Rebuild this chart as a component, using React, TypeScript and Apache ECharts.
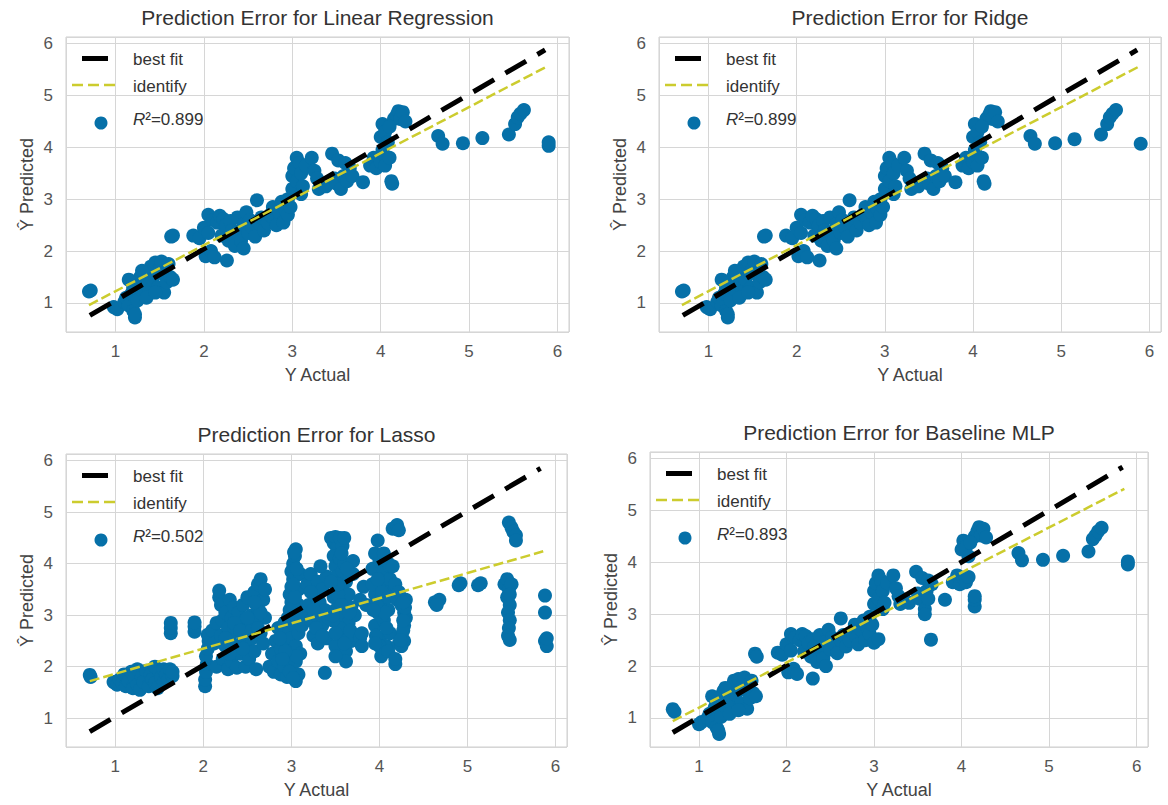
import React, { useEffect, useRef } from 'react';
import * as echarts from 'echarts';

const FONT = "'Liberation Sans', Arial, Helvetica, sans-serif";

// ---------- DATA ----------
const panelTitles = [
  'Prediction Error for Linear Regression',
  'Prediction Error for Ridge',
  'Prediction Error for Lasso',
  'Prediction Error for Baseline MLP',
];
const r2Values = ['0.899', '0.899', '0.502', '0.893'];
const xAxisName = 'Y Actual';
const yAxisName = 'Ŷ Predicted';
const tickValues = [1, 2, 3, 4, 5, 6];

// black dashed "best fit" line end points per panel
const bestFitLines = [
  [[0.71, 0.76], [5.86, 5.88]],
  [[0.71, 0.76], [5.86, 5.88]],
  [[0.71, 0.74], [5.83, 5.85]],
  [[0.70, 0.72], [5.84, 5.84]],
];
// yellow dashed "identify" line end points per panel
const identifyLines = [
  [[0.70, 0.96], [5.88, 5.56]],
  [[0.70, 0.96], [5.88, 5.56]],
  [[0.71, 1.72], [5.86, 4.24]],
  [[0.70, 0.94], [5.86, 5.42]],
];

const linearPoints = [
  [0.70, 1.22], [0.72, 1.24], [0.98, 0.92], [1.02, 0.88], [1.10, 1.02], [1.12, 1.10], [1.15, 0.95], [1.18, 1.18],
  [1.20, 0.85], [1.22, 0.72], [1.22, 0.78], [1.20, 1.30], [1.25, 1.40], [1.25, 1.05], [1.28, 1.50], [1.30, 1.25],
  [1.32, 1.55], [1.35, 1.35], [1.38, 1.60], [1.40, 1.70], [1.42, 1.45], [1.45, 1.78], [1.48, 1.30], [1.50, 1.65],
  [1.52, 1.80], [1.55, 1.55], [1.55, 1.20], [1.58, 1.40], [1.60, 1.75], [1.62, 1.50], [1.65, 1.45], [1.63, 2.28],
  [1.65, 2.30], [1.15, 1.45], [1.35, 1.10], [1.45, 1.20], [1.30, 1.62],
  [1.88, 2.30], [1.95, 2.25], [2.00, 2.45], [2.02, 1.90], [2.05, 2.70], [2.05, 2.35], [2.08, 2.00], [2.10, 2.60],
  [2.12, 1.88], [2.15, 2.55], [2.18, 2.68], [2.20, 2.30], [2.22, 2.62], [2.25, 2.50], [2.26, 1.82], [2.28, 2.20],
  [2.30, 2.58], [2.32, 2.40], [2.35, 2.10], [2.38, 2.65], [2.40, 2.30], [2.42, 2.20], [2.45, 2.52], [2.45, 2.05],
  [2.48, 2.75], [2.50, 2.35], [2.52, 2.60], [2.55, 2.45], [2.58, 2.28], [2.60, 2.98], [2.62, 2.55], [2.65, 2.65],
  [2.68, 2.40],
  [2.72, 2.55], [2.75, 2.70], [2.78, 2.85], [2.80, 2.60], [2.82, 2.50], [2.85, 2.75], [2.88, 2.95], [2.90, 2.55],
  [2.92, 2.80], [2.95, 3.00], [2.95, 2.70], [2.98, 2.85], [3.00, 3.20], [3.00, 3.45], [3.02, 3.60], [3.05, 3.80],
  [3.05, 3.35], [3.08, 3.70], [3.10, 3.10], [3.10, 3.50], [3.12, 3.25], [3.15, 3.65],
  [3.22, 3.80], [3.25, 3.55], [3.28, 3.40], [3.30, 3.20], [3.35, 3.30], [3.38, 3.25], [3.45, 3.88], [3.48, 3.40],
  [3.50, 3.30], [3.52, 3.75], [3.55, 3.20], [3.58, 3.45], [3.60, 3.70], [3.62, 3.35], [3.65, 3.60], [3.68, 3.45],
  [3.80, 3.33], [3.88, 3.65], [3.92, 3.80], [3.95, 3.60], [4.00, 3.72], [4.02, 3.95], [4.05, 3.65], [4.10, 3.80],
  [4.12, 3.35], [4.13, 3.30], [4.00, 4.20], [4.02, 4.45], [4.05, 4.30], [4.08, 4.10], [4.15, 4.55], [4.18, 4.62],
  [4.20, 4.70], [4.22, 4.55], [4.25, 4.68], [4.28, 4.50], [4.10, 4.40],
  [4.65, 4.22], [4.70, 4.07], [4.93, 4.08], [5.15, 4.18], [5.45, 4.25], [5.52, 4.45], [5.55, 4.58], [5.58, 4.65],
  [5.62, 4.72], [5.90, 4.03], [5.90, 4.10],
];

const ridgePoints = [
  [0.70, 1.22], [0.72, 1.24], [0.98, 0.92], [1.02, 0.88], [1.10, 1.02], [1.12, 1.10], [1.15, 0.95], [1.18, 1.18],
  [1.20, 0.85], [1.22, 0.72], [1.22, 0.78], [1.20, 1.30], [1.25, 1.40], [1.25, 1.05], [1.28, 1.50], [1.30, 1.25],
  [1.32, 1.55], [1.35, 1.35], [1.38, 1.60], [1.40, 1.70], [1.42, 1.45], [1.45, 1.78], [1.48, 1.30], [1.50, 1.65],
  [1.52, 1.80], [1.55, 1.55], [1.55, 1.20], [1.58, 1.40], [1.60, 1.75], [1.62, 1.50], [1.65, 1.45], [1.63, 2.28],
  [1.65, 2.30], [1.15, 1.45], [1.35, 1.10], [1.45, 1.20], [1.30, 1.62],
  [1.88, 2.30], [1.95, 2.25], [2.00, 2.45], [2.02, 1.90], [2.05, 2.70], [2.05, 2.35], [2.08, 2.00], [2.10, 2.60],
  [2.12, 1.88], [2.15, 2.55], [2.18, 2.68], [2.20, 2.30], [2.22, 2.62], [2.25, 2.50], [2.26, 1.82], [2.28, 2.20],
  [2.30, 2.58], [2.32, 2.40], [2.35, 2.10], [2.38, 2.65], [2.40, 2.30], [2.42, 2.20], [2.45, 2.52], [2.45, 2.05],
  [2.48, 2.75], [2.50, 2.35], [2.52, 2.60], [2.55, 2.45], [2.58, 2.28], [2.60, 2.98], [2.62, 2.55], [2.65, 2.65],
  [2.68, 2.40],
  [2.72, 2.55], [2.75, 2.70], [2.78, 2.85], [2.80, 2.60], [2.82, 2.50], [2.85, 2.75], [2.88, 2.95], [2.90, 2.55],
  [2.92, 2.80], [2.95, 3.00], [2.95, 2.70], [2.98, 2.85], [3.00, 3.20], [3.00, 3.45], [3.02, 3.60], [3.05, 3.80],
  [3.05, 3.35], [3.08, 3.70], [3.10, 3.10], [3.10, 3.50], [3.12, 3.25], [3.15, 3.65],
  [3.22, 3.80], [3.25, 3.55], [3.28, 3.40], [3.30, 3.20], [3.35, 3.30], [3.38, 3.25], [3.45, 3.88], [3.48, 3.40],
  [3.50, 3.30], [3.52, 3.75], [3.55, 3.20], [3.58, 3.45], [3.60, 3.70], [3.62, 3.35], [3.65, 3.60], [3.68, 3.45],
  [3.80, 3.33], [3.88, 3.65], [3.92, 3.80], [3.95, 3.60], [4.00, 3.72], [4.02, 3.95], [4.05, 3.65], [4.10, 3.80],
  [4.12, 3.35], [4.13, 3.30], [4.00, 4.20], [4.02, 4.45], [4.05, 4.30], [4.08, 4.10], [4.15, 4.55], [4.18, 4.62],
  [4.20, 4.70], [4.22, 4.55], [4.25, 4.68], [4.28, 4.50], [4.10, 4.40],
  [4.65, 4.22], [4.70, 4.07], [4.93, 4.08], [5.15, 4.16], [5.45, 4.25], [5.52, 4.45], [5.55, 4.58], [5.58, 4.65],
  [5.62, 4.72], [5.90, 4.07],
];

const lassoPoints = [
  [0.71, 1.84], [0.72, 1.80],
  [0.98, 1.70], [1.02, 1.65], [1.05, 1.75], [1.08, 1.68], [1.10, 1.85], [1.12, 1.62], [1.15, 1.72], [1.18, 1.90],
  [1.20, 1.58], [1.22, 1.78], [1.25, 1.95], [1.25, 1.65], [1.28, 1.55], [1.30, 1.80], [1.32, 1.70], [1.35, 1.92],
  [1.38, 1.62], [1.40, 1.85], [1.42, 1.75], [1.45, 2.00], [1.45, 1.68], [1.48, 1.58], [1.50, 1.90], [1.52, 1.80],
  [1.55, 1.70], [1.55, 1.95], [1.58, 1.85], [1.60, 1.75], [1.62, 1.95], [1.65, 1.82], [1.65, 1.90],
  [1.63, 2.65], [1.63, 2.75], [1.63, 2.85], [1.90, 2.68], [1.90, 2.78], [1.90, 2.86],
  [2.02, 1.62], [2.02, 1.75], [2.03, 1.90], [2.04, 2.05], [2.03, 2.20], [2.05, 2.35], [2.06, 2.50], [2.05, 2.62],
  [2.10, 2.70], [2.12, 2.45], [2.15, 2.85], [2.15, 2.00], [2.18, 3.35], [2.18, 3.48], [2.20, 3.20], [2.20, 2.60],
  [2.22, 2.90], [2.22, 2.15], [2.25, 3.05], [2.25, 2.40], [2.28, 2.75], [2.28, 1.95], [2.30, 3.30], [2.30, 2.55],
  [2.32, 2.95], [2.32, 2.10], [2.35, 3.15], [2.35, 2.70], [2.38, 2.40], [2.38, 1.98], [2.40, 2.85], [2.40, 3.05],
  [2.42, 2.25], [2.45, 2.60], [2.45, 3.20], [2.48, 2.00], [2.48, 2.90], [2.50, 2.40], [2.50, 3.35], [2.52, 2.75],
  [2.52, 2.15], [2.55, 3.00], [2.55, 2.55], [2.58, 3.45], [2.58, 2.30], [2.60, 2.85], [2.60, 1.95], [2.62, 3.60],
  [2.62, 3.15], [2.65, 2.65], [2.65, 3.70], [2.68, 2.45], [2.68, 3.30], [2.70, 3.50], [2.70, 2.95],
  [2.25, 2.55], [2.35, 2.85], [2.42, 2.70], [2.55, 2.70], [2.50, 2.95], [2.62, 2.75], [2.65, 3.05], [2.45, 2.35],
  [2.58, 3.25], [2.30, 2.25],
  [2.75, 2.00], [2.78, 2.25], [2.80, 1.90], [2.82, 2.50], [2.85, 2.10], [2.85, 2.75], [2.88, 1.85], [2.88, 2.35],
  [2.90, 2.60], [2.92, 2.00], [2.92, 2.85], [2.95, 2.20], [2.95, 2.45], [2.95, 1.80], [2.98, 2.70], [3.00, 1.95],
  [3.00, 2.30], [3.00, 2.55], [3.02, 2.85], [3.05, 1.72], [3.05, 2.10], [3.05, 2.40], [3.08, 2.65], [3.08, 1.85],
  [3.10, 2.25], [3.10, 2.95],
  [2.96, 2.95], [3.06, 2.20], [2.98, 1.90], [3.02, 1.78], [2.93, 2.30], [2.90, 2.15], [2.87, 2.55],
  [2.98, 3.10], [3.00, 3.25], [2.98, 3.40], [3.00, 3.55], [3.02, 3.70], [3.00, 3.85], [3.02, 4.00], [3.04, 4.15],
  [3.05, 4.28], [3.08, 3.20], [3.08, 3.50], [3.10, 3.80], [3.12, 3.05], [3.12, 2.80],
  [3.02, 3.15], [3.04, 3.35], [3.02, 3.60], [3.06, 3.90], [3.03, 4.22],
  [3.18, 3.60], [3.20, 3.20], [3.22, 2.90], [3.22, 3.80], [3.25, 3.40], [3.25, 2.60], [3.28, 3.00], [3.30, 3.65],
  [3.30, 2.45], [3.32, 3.25], [3.35, 2.80], [3.35, 3.50], [3.38, 3.10], [3.38, 1.88], [3.40, 3.75], [3.40, 2.55],
  [3.42, 2.95],
  [3.22, 3.45], [3.28, 2.75], [3.33, 3.95], [3.35, 2.60], [3.25, 3.10],
  [3.45, 4.50], [3.48, 4.40], [3.50, 4.52], [3.52, 4.30], [3.55, 4.50], [3.58, 4.35], [3.60, 4.50], [3.48, 4.15],
  [3.50, 3.95], [3.52, 3.75], [3.55, 4.10], [3.55, 3.55], [3.58, 3.85], [3.60, 3.30], [3.60, 4.00], [3.62, 3.65],
  [3.48, 3.35], [3.50, 3.10], [3.52, 2.85], [3.55, 2.60], [3.50, 2.40], [3.58, 3.00], [3.60, 2.70], [3.62, 2.30],
  [3.62, 2.10], [3.65, 3.40], [3.65, 2.85], [3.68, 3.15], [3.68, 2.50], [3.70, 3.80], [3.72, 3.00], [3.70, 4.05],
  [3.53, 3.40], [3.57, 3.20], [3.63, 2.55], [3.55, 2.75], [3.50, 2.20],
  [3.47, 2.90], [3.50, 2.65], [3.53, 3.60], [3.57, 4.20], [3.63, 3.90], [3.66, 3.05], [3.67, 2.70], [3.45, 3.65],
  [3.47, 3.00], [3.60, 2.45],
  [3.78, 2.55], [3.80, 2.65], [3.78, 3.30], [3.82, 3.55], [3.85, 3.20], [3.80, 2.40],
  [3.92, 3.90], [3.95, 3.40], [3.95, 2.80], [3.98, 4.45], [3.98, 3.05], [4.00, 4.05], [4.00, 3.70], [4.00, 2.55],
  [4.02, 2.20], [4.02, 3.25], [4.05, 3.85], [4.05, 2.90], [4.08, 3.55], [4.08, 2.40], [4.10, 3.10], [4.10, 4.00],
  [4.12, 3.70], [4.12, 2.65], [3.92, 3.60], [3.95, 4.20],
  [4.03, 3.45], [4.06, 3.05], [3.97, 3.25], [4.00, 2.40], [4.10, 3.35],
  [3.93, 3.10], [3.96, 2.60], [3.98, 3.70], [4.05, 4.20], [4.08, 2.75], [4.12, 3.95], [3.95, 2.45], [4.10, 2.30],
  [4.15, 4.68], [4.20, 4.75], [4.22, 4.65], [4.18, 2.05], [4.18, 2.15], [4.15, 3.95], [4.18, 3.60], [4.20, 3.30],
  [4.22, 2.45], [4.25, 3.20], [4.25, 2.60], [4.28, 3.05], [4.28, 2.80], [4.30, 2.95], [4.30, 3.30], [4.25, 2.40],
  [4.22, 3.45], [4.28, 2.50],
  [4.27, 2.70], [4.27, 2.90], [4.29, 3.15], [4.27, 3.25], [4.24, 2.52],
  [4.63, 3.25], [4.68, 3.30], [4.65, 3.20], [4.90, 3.58], [4.92, 3.62], [5.12, 3.58], [5.15, 3.62],
  [5.42, 3.60], [5.45, 3.70], [5.47, 3.50], [5.45, 3.35], [5.48, 3.20], [5.46, 3.05], [5.48, 2.90], [5.47, 2.75],
  [5.46, 2.60], [5.48, 2.52], [5.50, 3.60], [5.48, 3.40],
  [5.47, 4.80], [5.50, 4.70], [5.52, 4.62], [5.55, 4.55], [5.55, 4.45],
  [5.88, 3.38], [5.88, 3.05], [5.88, 2.50], [5.90, 2.40], [5.90, 2.55],
];

const mlpPoints = [
  [0.70, 1.17], [0.72, 1.12], [1.00, 0.88], [1.03, 0.92], [1.10, 1.00], [1.12, 1.08], [1.15, 0.92], [1.18, 1.20],
  [1.20, 0.82], [1.23, 0.69], [1.22, 0.76], [1.20, 1.30], [1.25, 1.42], [1.25, 1.02], [1.28, 1.52], [1.30, 1.22],
  [1.32, 1.55], [1.35, 1.32], [1.38, 1.62], [1.40, 1.72], [1.42, 1.45], [1.45, 1.75], [1.48, 1.28], [1.50, 1.62],
  [1.52, 1.78], [1.55, 1.52], [1.55, 1.18], [1.58, 1.38], [1.60, 1.72], [1.62, 1.48], [1.65, 1.42], [1.64, 2.24],
  [1.66, 2.18], [1.15, 1.42], [1.35, 1.08], [1.45, 1.15], [1.30, 1.58],
  [1.90, 2.26], [1.95, 2.22], [2.00, 2.42], [2.02, 1.88], [2.05, 2.62], [2.05, 2.30], [2.08, 1.95], [2.10, 2.55],
  [2.12, 1.85], [2.15, 2.50], [2.18, 2.62], [2.20, 2.28], [2.22, 2.58], [2.25, 2.45], [2.30, 1.76], [2.28, 2.18],
  [2.30, 2.52], [2.32, 2.38], [2.35, 2.08], [2.38, 2.60], [2.40, 2.28], [2.42, 2.15], [2.45, 2.48], [2.45, 2.00],
  [2.48, 2.70], [2.50, 2.32], [2.52, 2.55], [2.55, 2.42], [2.58, 2.25], [2.62, 2.92], [2.62, 2.50], [2.65, 2.60],
  [2.68, 2.38],
  [2.72, 2.50], [2.75, 2.65], [2.78, 2.80], [2.80, 2.55], [2.82, 2.42], [2.85, 2.70], [2.88, 2.88], [2.90, 2.50],
  [2.92, 2.75], [2.95, 2.95], [2.95, 2.62], [2.98, 2.80], [3.00, 2.45], [3.05, 2.52], [3.00, 3.20], [3.00, 3.45],
  [3.02, 3.60], [3.05, 3.75], [3.05, 3.30], [3.08, 3.65], [3.10, 3.10], [3.10, 3.45], [3.12, 3.22], [3.15, 3.60],
  [3.22, 3.75], [3.25, 3.50], [3.28, 3.35], [3.30, 3.20], [3.35, 3.28], [3.40, 3.22], [3.48, 3.82], [3.50, 3.40],
  [3.52, 3.30], [3.55, 3.70], [3.58, 3.10], [3.58, 3.00], [3.60, 3.45], [3.62, 3.65], [3.62, 3.30], [3.65, 2.51],
  [3.66, 3.58],
  [3.81, 3.28], [3.90, 3.62], [3.95, 3.75], [3.98, 3.58], [4.02, 3.70], [4.05, 3.62], [4.08, 3.72], [4.15, 3.15],
  [4.15, 3.28], [4.15, 3.35], [4.00, 4.25], [4.02, 4.42], [4.05, 4.30], [4.08, 4.12], [4.15, 4.50], [4.18, 4.60],
  [4.20, 4.68], [4.22, 4.52], [4.25, 4.65], [4.28, 4.48], [4.10, 4.38],
  [4.65, 4.18], [4.69, 4.04], [4.93, 4.05], [5.16, 4.13], [5.45, 4.21], [5.50, 4.45], [5.53, 4.52], [5.56, 4.60],
  [5.60, 4.67], [5.90, 3.96], [5.90, 4.02],
];

const panelPoints = [linearPoints, ridgePoints, lassoPoints, mlpPoints];

// ---------- LAYOUT / STYLE ----------
const gridRects = [
  { left: 66, top: 37, width: 503, height: 295 },
  { left: 659, top: 37, width: 502, height: 295 },
  { left: 66, top: 454, width: 501, height: 293 },
  { left: 650, top: 452, width: 498, height: 295 },
];
const AX_MIN = 0.44;
const AX_MAX = 6.13;
const DOT = '#0670a8';
const YELLOW = '#cccc2e';
const GRID_LINE = '#d6d6d6';

function buildOption() {
  const grid: any[] = [];
  const xAxis: any[] = [];
  const yAxis: any[] = [];
  const series: any[] = [];
  const graphic: any[] = [];

  const labelFmt = (v: number) => (tickValues.indexOf(Math.round(v * 1000) / 1000) >= 0 ? String(v) : '');

  gridRects.forEach((g, i) => {
    grid.push({
      left: g.left, top: g.top, width: g.width, height: g.height,
      show: true, borderColor: '#cfcfcf', borderWidth: 1, backgroundColor: '#fff',
    });
    const common = {
      gridIndex: i, type: 'value', min: AX_MIN, max: AX_MAX, minInterval: 1, maxInterval: 1,
      axisLine: { show: false }, axisTick: { show: false },
      splitLine: { show: true, lineStyle: { color: GRID_LINE, width: 1 } },
      nameLocation: 'middle',
      nameTextStyle: { fontFamily: FONT, fontSize: 18, color: '#444' },
    };
    xAxis.push({
      ...common,
      name: xAxisName, nameGap: 34,
      axisLabel: { formatter: labelFmt, showMinLabel: false, showMaxLabel: false, margin: 11, fontFamily: FONT, fontSize: 17, color: '#555' },
    });
    yAxis.push({
      ...common,
      name: yAxisName, nameGap: 30, nameRotate: 90,
      axisLabel: { formatter: labelFmt, showMinLabel: false, showMaxLabel: false, margin: 13, fontFamily: FONT, fontSize: 17, color: '#555' },
    });
    series.push({
      type: 'scatter', name: 'R2', xAxisIndex: i, yAxisIndex: i,
      data: panelPoints[i], symbol: 'circle', symbolSize: 14,
      itemStyle: { color: DOT, opacity: 1 }, z: 2,
    });
    series.push({
      type: 'line', name: 'best fit', xAxisIndex: i, yAxisIndex: i,
      data: bestFitLines[i], symbol: 'none', z: 3,
      lineStyle: { color: '#000', width: 5, type: [24, 13] },
    });
    series.push({
      type: 'line', name: 'identify', xAxisIndex: i, yAxisIndex: i,
      data: identifyLines[i], symbol: 'none', z: 4,
      lineStyle: { color: YELLOW, width: 2.5, type: [10, 4] },
    });

    // title
    graphic.push({
      type: 'text', x: g.left + g.width / 2, y: g.top - 20,
      style: { text: panelTitles[i], fontFamily: FONT, fontSize: 21, fill: '#333', align: 'center', verticalAlign: 'middle' },
    });
    // legend
    graphic.push({
      type: 'line', shape: { x1: g.left + 16, y1: g.top + 21.5, x2: g.left + 42, y2: g.top + 21.5 },
      style: { stroke: '#000', lineWidth: 5 }, z: 10,
    });
    graphic.push({
      type: 'line', shape: { x1: g.left + 6, y1: g.top + 48, x2: g.left + 52, y2: g.top + 48 },
      style: { stroke: YELLOW, lineWidth: 2.5, lineDash: [11, 5] }, z: 10,
    });
    graphic.push({
      type: 'circle', shape: { cx: g.left + 35, cy: g.top + 86, r: 6.5 },
      style: { fill: DOT }, z: 10,
    });
    const textBase = { fontFamily: FONT, fontSize: 17, fill: '#333', align: 'left', verticalAlign: 'middle' };
    graphic.push({ type: 'text', x: g.left + 67, y: g.top + 22, style: { ...textBase, text: 'best fit' }, z: 10 });
    graphic.push({ type: 'text', x: g.left + 67, y: g.top + 49, style: { ...textBase, text: 'identify' }, z: 10 });
    graphic.push({
      type: 'text', x: g.left + 67, y: g.top + 82, z: 10,
      style: {
        ...textBase,
        text: '{i|R}{n|²=' + r2Values[i] + '}',
        rich: {
          i: { fontFamily: FONT, fontSize: 17, fontStyle: 'italic', fill: '#333' },
          n: { fontFamily: FONT, fontSize: 17, fill: '#333' },
        },
      },
    });
  });

  return {
    animation: false,
    backgroundColor: '#fff',
    grid, xAxis, yAxis, series, graphic,
  };
}

export default function App() {
  const ref = useRef<HTMLDivElement>(null);
  useEffect(() => {
    if (!ref.current) return;
    const chart = echarts.init(ref.current, undefined, { renderer: 'svg' });
    chart.setOption(buildOption() as any);
    return () => chart.dispose();
  }, []);
  return (
    <div
      ref={ref}
      style={{ position: 'absolute', left: 0, top: 0, width: 1168, height: 805, background: '#fff' }}
    />
  );
}
